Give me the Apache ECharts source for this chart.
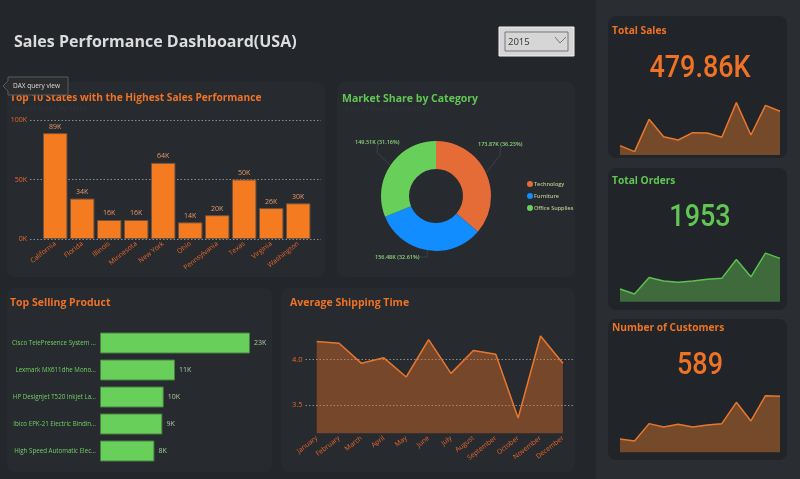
<!DOCTYPE html>
<html lang="en">

<head>
    <meta charset="UTF-8">
    <title>Sales Performance Dashboard(USA)</title>
    <script src="https://cdn.jsdelivr.net/npm/echarts@6/dist/echarts.min.js"></script>
    <style>
        html,
        body {
            margin: 0;
            background: #23262b;
        }

        #main {
            width: 800px;
            height: 479px;
        }
    </style>
</head>

<body>
    <div id="main"></div>

    <script>
        // Top 10 states, in thousands
        var states = ['California', 'Florida', 'Illinois', 'Minnesota', 'New York', 'Ohio', 'Pennsylvania', 'Texas', 'Virginia', 'Washington'];
        var stateSales = [89, 34, 16, 16, 64, 14, 20, 50, 26, 30];

        // market share, in thousands
        var categories = ['Technology', 'Furniture', 'Office Supplies'];
        var categorySales = [173.87, 156.48, 149.51];

        // top products, in thousands
        var products = ['Cisco TelePresence System ...', 'Lexmark MX611dhe Mono...', 'HP Designjet T520 Inkjet La...', 'Ibico EPK-21 Electric Bindin...', 'High Speed Automatic Elec...'];
        var productSales = [22.6, 11.3, 9.6, 9.4, 8.2];

        var months = ['January', 'February', 'March', 'April', 'May', 'June', 'July', 'August', 'September', 'October', 'November', 'December'];
        var shippingDays = [4.20, 4.18, 3.96, 4.02, 3.81, 4.22, 3.85, 4.10, 4.06, 3.36, 4.26, 3.96];

        // KPI sparklines
        var monthlySales = [14.5, 5.2, 55.3, 28.4, 23.3, 34.6, 34.1, 27.4, 81.2, 31, 77, 67.8];
        var monthlyOrders = [80, 48, 153, 130, 122, 130, 141, 147, 266, 157, 306, 273];
        var monthlyCustomers = [20, 17, 43, 38, 42, 38, 41, 43, 75, 47, 85, 84];

        var ORANGE = '#ee7326';
        var GREEN = '#62c655';
        var PANEL = '#272a2f';
        var CARD = '#212429';
        var FONT = '"Open Sans", "Noto Sans", sans-serif';
        var TICK = '#e8682a';

        // where the donut labels sit
        var pieLabelSpots = [
            { x: 478, y: 144, align: 'left', verticalAlign: 'middle' },
            { x: 375, y: 257, align: 'left', verticalAlign: 'middle' },
            { x: 355, y: 142, align: 'left', verticalAlign: 'middle' }
        ];

        function panel(x, y, w, h, fill) {
            return { type: 'rect', z: -1, shape: { x: x, y: y, width: w, height: h, r: 8 }, style: { fill: fill } };
        }

        function label(x, y, text, size, color, weight, align, family) {
            return {
                type: 'text', z: 25, x: x, y: y,
                style: {
                    text: text, fill: color, align: align || 'left', verticalAlign: 'middle',
                    font: (weight || 'normal') + ' ' + size + 'px ' + (family || FONT)
                }
            };
        }

        // the big KPI numbers are a condensed face, squeeze Roboto to get there
        function bigNumber(y, text, color) {
            var t = label(700, y, text, 31, color, '500', 'center', 'Roboto, sans-serif');
            t.scaleX = 0.87;
            return t;
        }

        var grids = [], xAxes = [], yAxes = [], seriesList = [];

        function addGrid(g, x, y) {
            grids.push(g);
            x.gridIndex = grids.length - 1;
            y.gridIndex = grids.length - 1;
            xAxes.push(x);
            yAxes.push(y);
            return grids.length - 1;
        }

        var dotted = { show: true, lineStyle: { color: '#8a8c8e', type: [1.5, 2], width: 1 } };

        // grid 0 only carries the dotted lines of the state chart, they run wider than the bars
        addGrid({ left: 30, top: 120, width: 291, height: 119 },
            { type: 'value', show: false, min: 0, max: 1 },
            {
                type: 'value', min: 0, max: 100, interval: 50,
                axisLine: { show: false }, axisTick: { show: false }, splitLine: dotted,
                axisLabel: { formatter: '{value}K', color: TICK, fontSize: 7, fontFamily: FONT, margin: 3 }
            });

        var stateGrid = addGrid({ left: 41.7, top: 120, width: 270, height: 119 },
            {
                type: 'category', data: states, axisLine: { show: false }, axisTick: { show: false },
                axisLabel: { rotate: 38, color: TICK, fontSize: 6.8, fontFamily: FONT, margin: 4, interval: 0 }
            },
            { type: 'value', show: false, min: 0, max: 100, splitLine: { show: false } });
        seriesList.push({
            type: 'bar', xAxisIndex: stateGrid, yAxisIndex: stateGrid, data: stateSales, barWidth: 24.5,
            itemStyle: { color: '#f47b20', borderColor: '#6e5240', borderWidth: 1 },
            label: { show: true, position: 'top', formatter: '{c}K', color: '#e39a6c', fontSize: 7, fontFamily: FONT, distance: 3 }
        });

        var productGrid = addGrid({ left: 100, top: 329.5, width: 150, height: 135 },
            { type: 'value', show: false, min: 0, max: 22.6 },
            {
                type: 'category', data: products, inverse: true, axisLine: { show: false }, axisTick: { show: false },
                axisLabel: { color: '#72d064', fontSize: 6.2, fontFamily: FONT, margin: 4, interval: 0 }
            });
        seriesList.push({
            type: 'bar', xAxisIndex: productGrid, yAxisIndex: productGrid, data: productSales, barWidth: 21,
            itemStyle: { color: '#69cf5b', borderColor: '#47803f', borderWidth: 1 },
            label: {
                show: true, position: 'right', color: '#a9c9a0', fontSize: 7, fontFamily: FONT, distance: 4,
                formatter: function (p) { return Math.round(p.value) + 'K'; }
            }
        });

        var shipGrid = addGrid({ left: 305.5, top: 325, width: 268.6, height: 108.3 },
            {
                type: 'category', data: months, axisLine: { show: false }, axisTick: { show: false },
                axisLabel: { rotate: 38, color: TICK, fontSize: 6.8, fontFamily: FONT, margin: 4, interval: 0 }
            },
            {
                type: 'value', min: 3.193, max: 4.38,
                axisLine: { show: false }, axisTick: { show: false, customValues: [3.5, 4] }, splitLine: dotted,
                axisLabel: {
                    customValues: [3.5, 4], color: TICK, fontSize: 7.5, fontFamily: FONT, margin: 3,
                    formatter: function (v) { return v.toFixed(1); }
                }
            });
        seriesList.push({
            type: 'line', xAxisIndex: shipGrid, yAxisIndex: shipGrid, data: shippingDays, symbol: 'none',
            lineStyle: { color: '#e8772e', width: 1.5 },
            areaStyle: { color: 'rgba(238,115,38,0.4)', opacity: 1, origin: 'start' }, z: 1
        });

        function addSpark(bottom, data, yMax, line, fill) {
            var i = addGrid({ left: 620, top: bottom - 60, width: 160, height: 60 },
                { type: 'category', show: false, boundaryGap: false, data: months },
                { type: 'value', show: false, min: 0, max: yMax, splitLine: { show: false } });
            seriesList.push({
                type: 'line', xAxisIndex: i, yAxisIndex: i, data: data, symbol: 'none',
                lineStyle: { color: line, width: 1.5 },
                areaStyle: { color: fill, opacity: 1 }
            });
        }
        addSpark(155, monthlySales, 93, '#e8772e', '#744a2a');
        addSpark(301.7, monthlyOrders, 378, '#5cc04f', '#3f6a3c');
        addSpark(452.3, monthlyCustomers, 90, '#e8772e', '#744a2a');

        seriesList.push({
            type: 'pie', center: [436, 196], radius: [27, 55], startAngle: 90, clockwise: true, percentPrecision: 2,
            data: categories.map(function (c, i) { return { name: c, value: categorySales[i] }; }),
            color: ['#e66c37', '#118dff', '#69cf5b'],
            label: { formatter: '{c}K ({d}%)', color: '#8fd27f', fontSize: 5.5, fontWeight: 600, fontFamily: FONT },
            labelLine: { show: true, length: 8, length2: 8, lineStyle: { color: '#3d4045', width: 1 } },
            labelLayout: function (p) { return pieLabelSpots[p.dataIndex]; }
        });

        var graphicItems = [
            // right strip and panels
            { type: 'rect', z: -2, shape: { x: 596, y: 0, width: 204, height: 479 }, style: { fill: '#2a2d31' } },
            panel(7, 82, 318, 195, PANEL),
            panel(337, 82, 238, 195, PANEL),
            panel(7, 288, 265, 184, PANEL),
            panel(281, 288, 294, 184, PANEL),
            panel(608, 16, 179, 142, CARD),
            panel(608, 168, 179, 142, CARD),
            panel(608, 319, 179, 141, CARD),

            label(14, 42, 'Sales Performance Dashboard(USA)', 16, '#dcdcdc', 'bold'),

            label(10, 98, 'Top 10 States with the Highest Sales Performance', 10.2, ORANGE, 'bold'),
            label(12, 109, 'Sum of Sales by State', 7.5, '#303338'),
            label(342, 99, 'Market Share by Category', 10.5, GREEN, 'bold'),
            label(344, 109, 'Sum of Sales by Category', 7.5, '#303338'),
            label(10, 303, 'Top Selling Product', 10.5, ORANGE, 'bold'),
            label(290, 303, 'Average Shipping Time', 10.5, ORANGE, 'bold'),

            label(612, 31, 'Total Sales', 10.2, ORANGE, 'bold'),
            label(612, 181, 'Total Orders', 10.2, GREEN, 'bold'),
            label(612, 328, 'Number of Customers', 10.2, ORANGE, 'bold'),
            bigNumber(69, '479.86K', ORANGE),
            bigNumber(218, '1953', GREEN),
            bigNumber(366, '589', ORANGE),

            // year slicer
            { type: 'rect', z: 20, shape: { x: 499, y: 27, width: 75, height: 29 }, style: { fill: '#d6d6d6', stroke: '#f0f0f0', lineWidth: 1 } },
            { type: 'rect', z: 21, shape: { x: 505, y: 32, width: 63, height: 19 }, style: { fill: '#d6d6d6', stroke: '#777', lineWidth: 1 } },
            label(508, 42, '2015', 9.5, '#333'),
            { type: 'polyline', z: 22, shape: { points: [[555, 37], [560, 43], [566, 37]] }, style: { stroke: '#777', fill: 'none', lineWidth: 1 } },

            // tooltip left by the report viewer
            { type: 'polygon', z: 30, shape: { points: [[3, 86], [8, 81], [8, 77], [68, 77], [68, 95], [8, 95], [8, 91]] }, style: { fill: '#2b2c2e', stroke: '#5a5a5a', lineWidth: 1 } },
            { type: 'text', z: 31, x: 13, y: 86, style: { text: 'DAX query view', fill: '#dcdcdc', verticalAlign: 'middle', font: '6.5px ' + FONT } }
        ];

        var myChart = echarts.init(document.getElementById('main'));
        myChart.setOption({
            backgroundColor: '#23262b',
            animation: false,
            legend: {
                orient: 'vertical', left: 527, top: 181, padding: 0, itemWidth: 6, itemHeight: 6, itemGap: 6, icon: 'circle',
                data: categories,
                textStyle: { color: '#b9c98f', fontSize: 5.5, fontWeight: 600, fontFamily: FONT, padding: [0, 0, 0, -4] }
            },
            grid: grids,
            xAxis: xAxes,
            yAxis: yAxes,
            series: seriesList,
            graphic: graphicItems
        });
    </script>
</body>

</html>
